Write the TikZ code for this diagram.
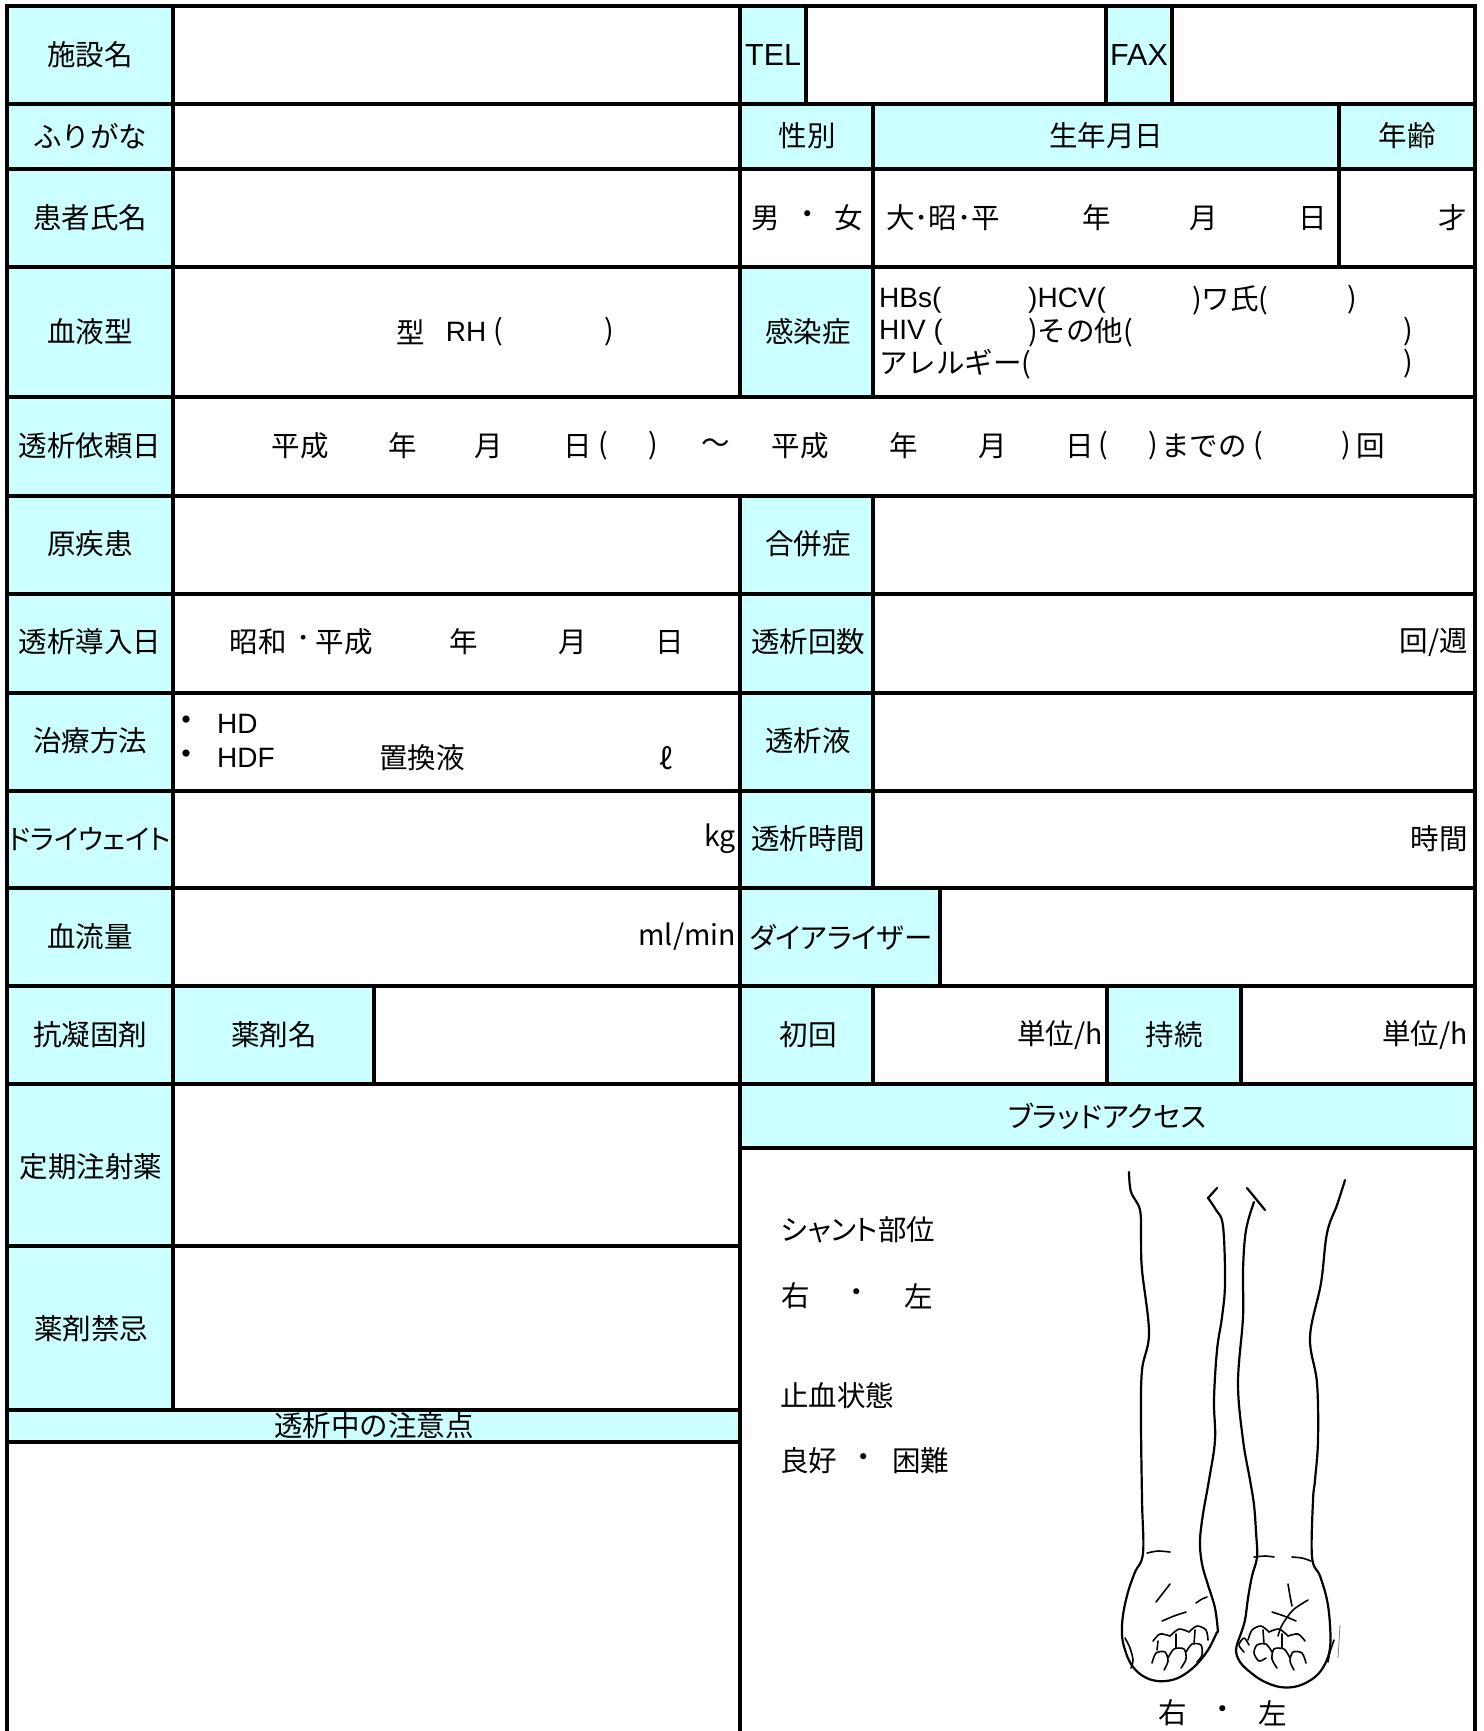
\documentclass[tikz,border=0pt]{standalone}
\usepackage{fontspec}
\setmainfont{Noto Sans CJK JP}
\newfontfamily\jpp[RawFeature=+palt]{Noto Sans CJK JP}
\newfontfamily\lat{Liberation Sans}
\definecolor{hdr}{RGB}{204,255,255}
\tikzset{
  txt/.style={inner sep=0pt, font=\fontsize{28.5}{32}\selectfont},
  ltxt/.style={inner sep=0pt, font=\lat\fontsize{28}{32}\selectfont},
  ptxt/.style={inner sep=0pt, font=\jpp\fontsize{28.5}{32}\selectfont},
  rule/.style={line width=3.5pt, line cap=rect},
  cellfill/.style={fill=hdr, draw=none},
  sketch/.style={line width=2.2pt, line cap=round, line join=round},
  thin/.style={line width=1.6pt, line cap=round, line join=round}
}
\begin{document}
\begin{tikzpicture}[x=1pt,y=-1pt]
\useasboundingbox (0,0) rectangle (1483,1731);
\fill[white] (0,0) rectangle (1483,1731);
% ---------- cyan fills ----------
\fill[cellfill] (7,6) rectangle (173,1410);
\fill[cellfill] (173,986) rectangle (374,1084);
\fill[cellfill] (740,6) rectangle (806,104);
\fill[cellfill] (1106,6) rectangle (1172,104);
\fill[cellfill] (740,104) rectangle (1475,169);
\fill[cellfill] (740,267) rectangle (873,397);
\fill[cellfill] (740,496) rectangle (873,888);
\fill[cellfill] (740,888) rectangle (940,986);
\fill[cellfill] (740,986) rectangle (873,1084);
\fill[cellfill] (1107,986) rectangle (1241,1084);
\fill[cellfill] (740,1084) rectangle (1475,1148);
\fill[cellfill] (7,1410) rectangle (740,1442);
% ---------- horizontal rules ----------
\foreach \yy in {6,104,169,267,397,496,594,693,791,888,986,1084}
  \draw[rule] (7,\yy) -- (1475,\yy);
\draw[rule] (7,1246) -- (740,1246);
\draw[rule] (7,1410) -- (740,1410);
\draw[rule] (7,1442) -- (740,1442);
\draw[rule] (740,1148) -- (1475,1148);
% ---------- vertical rules ----------
\draw[rule] (7,6) -- (7,1735);
\draw[rule] (1475,6) -- (1475,1735);
\draw[rule] (740,6) -- (740,397);
\draw[rule] (740,496) -- (740,1735);
\draw[rule] (173,6) -- (173,1410);
\draw[rule] (806,6) -- (806,104);
\draw[rule] (1106,6) -- (1106,104);
\draw[rule] (1172,6) -- (1172,104);
\draw[rule] (873,104) -- (873,397);
\draw[rule] (873,496) -- (873,888);
\draw[rule] (873,986) -- (873,1084);
\draw[rule] (1339,104) -- (1339,267);
\draw[rule] (940,888) -- (940,986);
\draw[rule] (374,986) -- (374,1084);
\draw[rule] (1107,986) -- (1107,1084);
\draw[rule] (1241,986) -- (1241,1084);
% ---------- row 1 ----------
\node[txt] (shisetsu) at (90,55) {施設名};
\node[ltxt,anchor=west,font=\lat\fontsize{30.5}{34}\selectfont] (tel) at (745,55) {TEL};
\node[ltxt,anchor=west,font=\lat\fontsize{30.5}{34}\selectfont] (fax) at (1110,55) {FAX};
% ---------- row 2 ----------
\node[txt] (furigana) at (90,136) {ふりがな};
\node[txt] (seibetsu) at (807,136) {性別};
\node[txt] (seinen) at (1106,136) {生年月日};
\node[txt] (nenrei) at (1407,136) {年齢};
% ---------- row 3 ----------
\node[txt] (kanja) at (90,218) {患者氏名};
\node[txt] (otoko) at (766,218) {男};
\node[txt] (sexdot) at (808,218) {・};
\node[txt] (onna) at (849,218) {女};
\node[txt,anchor=west] (era) at (886,218) {大･昭･平};
\node[txt] (bnen) at (1097,218) {年};
\node[txt] (bgetsu) at (1204,218) {月};
\node[txt] (bnichi) at (1313,218) {日};
\node[txt,anchor=east] (sai) at (1467,218) {才};
% ---------- row 4 ----------
\node[txt] (ketsueki) at (90,332) {血液型};
\node[txt] (kata) at (411,332) {型};
\node[ltxt] (rh) at (466,332) {RH};
\node[txt] (rhl) at (498,332) {(};
\node[txt] (rhr) at (609,332) {)};
\node[txt] (kansen) at (808,332) {感染症};
\node[ltxt,anchor=west] (hbs) at (879,300) {HBs(};
\node[ltxt,anchor=west] (hcv) at (1028,300) {)HCV(};
\node[txt,anchor=west] (wa) at (1192,300) {)ワ氏(};
\node[txt] (war) at (1352,300) {)};
\node[ltxt,anchor=west] (hiv) at (879,332) {HIV (};
\node[txt,anchor=west] (sono) at (1028,332) {)その他(};
\node[txt] (sonor) at (1408,332) {)};
\node[txt,anchor=west] (allergy) at (879,364) {アレルギー(};
\node[txt] (allr) at (1408,364) {)};
% ---------- row 5 ----------
\node[txt] (irai) at (90,446) {透析依頼日};
\node[txt] (h1) at (300,446) {平成};
\node[txt] (n1) at (403,446) {年};
\node[txt] (g1) at (489,446) {月};
\node[txt] (d1) at (578,446) {日};
\node[txt] (p1) at (603,446) {(};
\node[txt] (q1) at (653,446) {)};
\node[txt] (tilde) at (716,446) {～};
\node[txt] (h2) at (800,446) {平成};
\node[txt] (n2) at (904,446) {年};
\node[txt] (g2) at (993,446) {月};
\node[txt] (d2) at (1080,446) {日};
\node[txt] (p2) at (1103,446) {(};
\node[txt] (q2) at (1153,446) {)};
\node[txt] (made) at (1204,446) {までの};
\node[txt] (p3) at (1258,446) {(};
\node[txt] (q3) at (1346,446) {)};
\node[txt] (kai) at (1371,446) {回};
% ---------- row 6 ----------
\node[txt] (genshikkan) at (90,544) {原疾患};
\node[txt] (gappei) at (808,544) {合併症};
% ---------- row 7 ----------
\node[txt] (donyu) at (90,642) {透析導入日};
\node[txt] (showa) at (258,642) {昭和};
\node[txt] (sdot) at (304,642) {･};
\node[txt] (heisei) at (344,642) {平成};
\node[txt] (n3) at (464,642) {年};
\node[txt] (g3) at (573,642) {月};
\node[txt] (d3) at (670,642) {日};
\node[txt] (kaisu) at (808,642) {透析回数};
\node[txt,anchor=east] (kaishu) at (1468,642) {回/週};
% ---------- row 8 ----------
\node[txt] (chiryo) at (90,741) {治療方法};
\node[txt,font=\fontsize{34}{36}\selectfont] (b1) at (186,724) {・};
\node[ltxt,anchor=west] (hd) at (217,724) {HD};
\node[txt,font=\fontsize{34}{36}\selectfont] (b2) at (186,758) {・};
\node[ltxt,anchor=west] (hdf) at (217,758) {HDF};
\node[txt,anchor=west] (chikan) at (379,758) {置換液};
\node[txt] (liter) at (666,758) {ℓ};
\node[txt] (toekieki) at (808,741) {透析液};
% ---------- row 9 ----------
\node[ptxt, font=\jpp\fontsize{27.5}{32}\selectfont] (dw) at (90,839) {ドライウェイト};
\node[txt,anchor=east] (kg) at (736,839) {kg};
\node[txt] (jikanlbl) at (808,839) {透析時間};
\node[txt,anchor=east] (jikan) at (1468,839) {時間};
% ---------- row 10 ----------
\node[txt] (ketsuryu) at (90,937) {血流量};
\node[txt,anchor=east] (mlmin) at (736,937) {ml/min};
\node[ptxt] (dialyzer) at (841,937) {ダイアライザー};
% ---------- row 11 ----------
\node[txt] (kogyoko) at (90,1035) {抗凝固剤};
\node[txt] (yakuzai) at (274,1035) {薬剤名};
\node[txt] (shokai) at (808,1035) {初回};
\node[txt,anchor=east] (tani1) at (1103,1035) {単位/h};
\node[txt] (jizoku) at (1174,1035) {持続};
\node[txt,anchor=east] (tani2) at (1468,1035) {単位/h};
% ---------- lower left ----------
\node[txt] (teiki) at (91,1167) {定期注射薬};
\node[txt] (kinki) at (91,1329) {薬剤禁忌};
\node[txt] (chuui) at (374,1426) {透析中の注意点};
% ---------- lower right ----------
\node[ptxt] (access) at (1107,1116) {ブラッドアクセス};
\node[ptxt,anchor=west] (shunt) at (781,1230) {シャント部位};
\node[txt] (migi1) at (796,1296) {右};
\node[txt] (dot1) at (857,1296) {・};
\node[txt] (hidari1) at (919,1296) {左};
\node[txt,anchor=west] (shiketsu) at (780,1396) {止血状態};
\node[txt,anchor=west] (ryoko) at (780,1461) {良好};
\node[txt] (dot2) at (864,1461) {・};
\node[txt,anchor=west] (konnan) at (892,1461) {困難};
\node[txt] (migi2) at (1173,1713) {右};
\node[txt] (dot3) at (1223,1713) {・};
\node[txt] (hidari2) at (1273,1713) {左};
% ---------- arms drawing ----------
% right arm (left in picture), outer line and hand outline
\draw[sketch] plot[smooth, tension=0.6] coordinates {(1129,1172) (1131,1192) (1140,1210) (1141,1240) (1142,1270) (1149,1333) (1142,1370) (1141,1420) (1142,1500) (1143,1553) (1135,1572) (1128,1592) (1123,1615) (1122,1635) (1125,1650) (1131,1664) (1140,1674) (1152,1680) (1166,1681) (1180,1677) (1195,1666) (1208,1650) (1217,1632)};
% right arm inner line
\draw[sketch] (1217,1188) -- (1208,1198);
\draw[sketch] plot[smooth, tension=0.6] coordinates {(1208,1198) (1216,1210) (1223,1226) (1225,1283) (1222,1317) (1217,1350) (1214,1400) (1215,1440) (1209,1480) (1203,1514) (1200,1541) (1202,1564) (1208,1585) (1215,1608) (1218,1632)};
% left arm inner line
\draw[sketch] (1247,1188) -- (1265,1210);
\draw[sketch] plot[smooth, tension=0.6] coordinates {(1254,1202) (1246,1230) (1243,1270) (1243,1317) (1238,1383) (1243,1440) (1250,1480) (1254,1505) (1256,1532) (1257,1557) (1252,1576) (1248,1598) (1245,1620) (1240,1636)};
% left arm outer line and hand outline
\draw[sketch] plot[smooth, tension=0.6] coordinates {(1345,1180) (1337,1205) (1327,1233) (1321,1283) (1310,1337) (1317,1383) (1318,1440) (1315,1480) (1313,1500) (1312,1557) (1320,1576) (1327,1600) (1330,1625) (1330,1648) (1325,1664) (1315,1677) (1298,1686) (1280,1687) (1263,1681) (1250,1672) (1240,1662) (1236,1650) (1240,1636)};
% wrist creases
\draw[thin] plot[smooth] coordinates {(1147,1553) (1158,1551) (1170,1552)};
\draw[thin] plot[smooth] coordinates {(1254,1557) (1265,1556) (1274,1557)};
\draw[thin] plot[smooth] coordinates {(1292,1557) (1302,1558) (1311,1561)};
% right hand details
\draw[thin] plot[smooth] coordinates {(1170,1584) (1163,1593) (1156,1602)};
\draw[thin] plot[smooth] coordinates {(1162,1621) (1174,1616) (1186,1612)};
\draw[thin] plot[smooth] coordinates {(1196,1603) (1202,1599) (1207,1597)};
\draw[thin] plot[smooth] coordinates {(1125,1638) (1130,1648) (1133,1660) (1131,1668)};
\draw[thin] plot[smooth] coordinates {(1153,1641) (1160,1634) (1170,1636)};
\draw[thin] plot[smooth] coordinates {(1170,1636) (1179,1629) (1189,1632)};
\draw[thin] plot[smooth] coordinates {(1189,1632) (1197,1626) (1206,1630) (1208,1640)};
\draw[thin] plot[smooth] coordinates {(1152,1663) (1156,1653) (1165,1652) (1168,1661) (1164,1670)};
\draw[thin] plot[smooth] coordinates {(1168,1658) (1174,1649) (1184,1649) (1186,1659) (1181,1668)};
\draw[thin] plot[smooth] coordinates {(1186,1652) (1192,1644) (1201,1645) (1202,1655) (1197,1662)};
\draw[thin] plot[smooth] coordinates {(1158,1641) (1157,1650)};
\draw[thin] plot[smooth] coordinates {(1176,1634) (1176,1648)};
\draw[thin] plot[smooth] coordinates {(1195,1630) (1194,1644)};
% left hand details (mirrored)
\begin{scope}[xshift=2458pt, xscale=-1]
\draw[thin] plot[smooth] coordinates {(1170,1584) (1168,1596) (1166,1606)};
\draw[thin] plot[smooth] coordinates {(1162,1621) (1174,1616) (1186,1612)};
\draw[thin] plot[smooth] coordinates {(1150,1600) (1165,1610) (1176,1625) (1180,1636)};
\draw[thin] plot[smooth] coordinates {(1124,1640) (1128,1652) (1130,1662)};
\draw[thin] plot[smooth] coordinates {(1153,1641) (1160,1634) (1170,1636)};
\draw[thin] plot[smooth] coordinates {(1170,1636) (1179,1629) (1189,1632)};
\draw[thin] plot[smooth] coordinates {(1189,1632) (1197,1626) (1206,1630) (1210,1640)};
\draw[thin] plot[smooth] coordinates {(1152,1663) (1156,1653) (1165,1652) (1168,1661) (1164,1670)};
\draw[thin] plot[smooth] coordinates {(1168,1658) (1174,1649) (1184,1649) (1186,1659) (1181,1668)};
\draw[thin] plot[smooth] coordinates {(1186,1652) (1192,1644) (1201,1645) (1204,1653) (1199,1661) (1192,1658)};
\draw[thin] plot[smooth] coordinates {(1209,1645) (1214,1638) (1219,1645) (1214,1652)};
\draw[thin] plot[smooth] coordinates {(1176,1634) (1176,1648)};
\draw[thin] plot[smooth] coordinates {(1195,1630) (1194,1644)};
\end{scope}
\draw[line width=0.8pt, gray] (1340,1625) -- (1338,1658);
\end{tikzpicture}
\end{document}
